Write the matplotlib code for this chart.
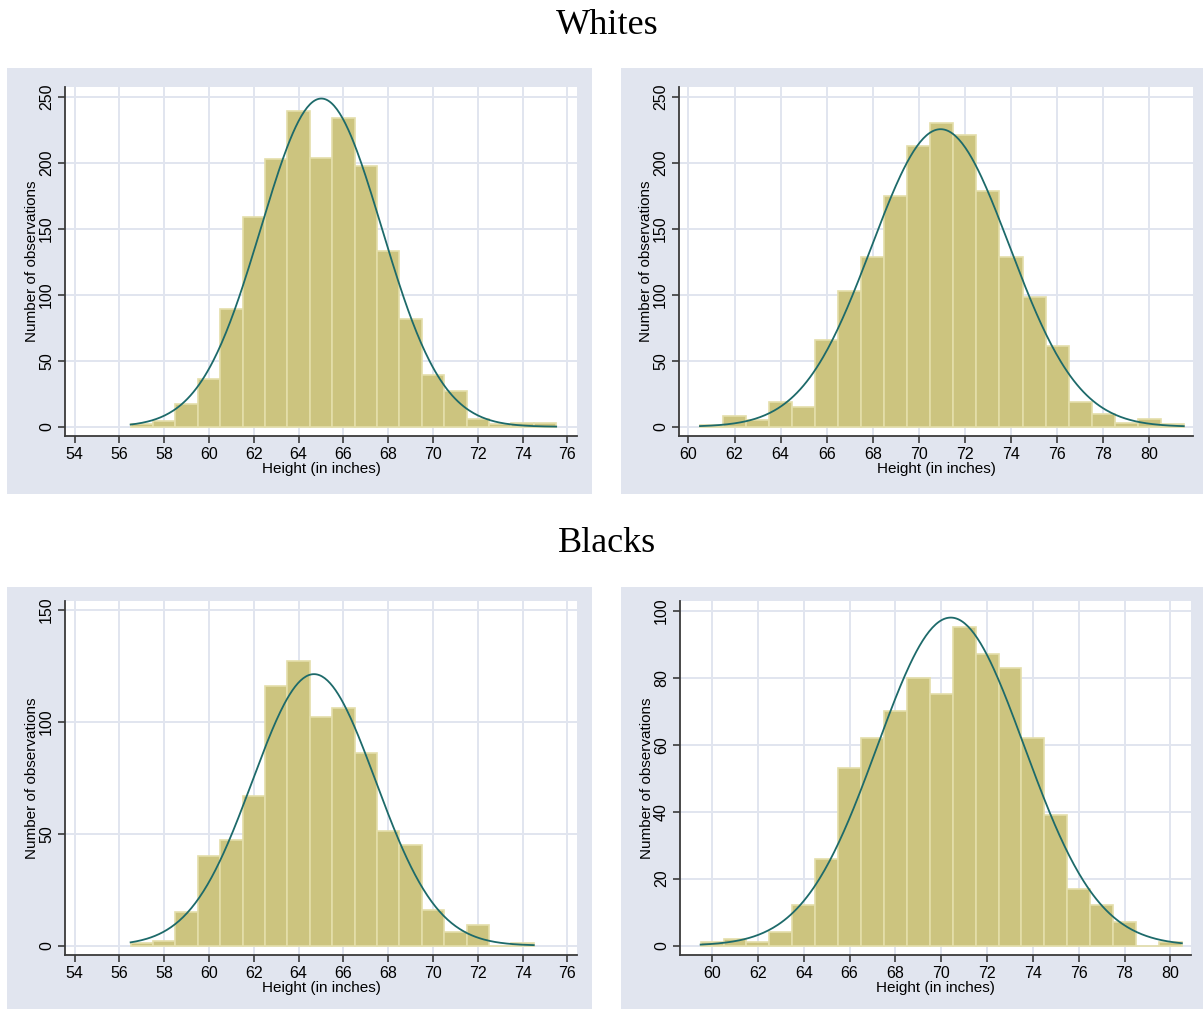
import matplotlib
matplotlib.use('Agg')
import matplotlib.pyplot as plt
from matplotlib.patches import Rectangle
import numpy as np

# bin centres (width 1 inch) and counts
w_women_bins = list(range(57, 76))
w_women_counts = [2, 4, 17, 36, 89, 159, 203, 239, 204, 234, 198, 133, 82, 39, 27, 6, 2, 3, 3]

w_men_bins = list(range(61, 82))
w_men_counts = [1, 8, 5, 19, 15, 66, 103, 129, 175, 213, 230, 221, 179, 129, 98, 61, 19, 10, 3, 6, 2]

b_women_bins = list(range(57, 75))
b_women_counts = [1, 2, 15, 40, 47, 67, 116, 127, 102, 106, 86, 51, 45, 16, 6, 9, 0, 1]

b_men_bins = list(range(60, 81))
b_men_counts = [1, 2, 1, 4, 12, 26, 53, 62, 70, 80, 75, 95, 87, 83, 62, 39, 17, 12, 7, 0, 1]

W, H = 1203, 1009
BG = '#E1E5EF'
BAR = '#CCC47F'
BAR_EDGE = '#E4DEAA'
CURVE = '#1D6A6A'
GRID = '#E1E5EF'

plt.rcParams['font.family'] = ['Liberation Sans', 'DejaVu Sans']

fig = plt.figure(figsize=(W / 100, H / 100), dpi=100)
fig.patch.set_facecolor('white')


def px_box(l, t, r, b):
    return [l / W, 1 - b / H, (r - l) / W, (b - t) / H]


def gray_box(l, t, r, b):
    fig.patches.append(Rectangle((l / W, 1 - b / H), (r - l) / W, (b - t) / H,
                                 transform=fig.transFigure, facecolor=BG,
                                 edgecolor='none', zorder=-10))


def panel(rect, bins, counts, xticks, yticks, xlim, ylim):
    ax = fig.add_axes(rect)
    bins = np.array(bins, dtype=float)
    counts = np.array(counts, dtype=float)
    ax.bar(bins, counts, width=1.0, color=BAR, edgecolor=BAR_EDGE, linewidth=1.2, zorder=2)
    # normal density scaled to counts
    n = counts.sum()
    mu = (counts * bins).sum() / n
    sd = np.sqrt((counts * (bins - mu) ** 2).sum() / (n - 1))
    xs = np.linspace(bins[0] - 0.5, bins[-1] + 0.5, 300)
    ys = n / (sd * np.sqrt(2 * np.pi)) * np.exp(-0.5 * ((xs - mu) / sd) ** 2)
    ax.plot(xs, ys, color=CURVE, lw=1.3, zorder=3)
    ax.set_xlim(*xlim)
    ax.set_ylim(*ylim)
    ax.set_xticks(xticks)
    ax.set_yticks(yticks)
    ax.set_yticklabels([str(v) for v in yticks], rotation=90, va='center')
    ax.grid(True, color=GRID, lw=1.4, zorder=0)
    ax.set_axisbelow(True)
    for s in ['top', 'right']:
        ax.spines[s].set_visible(False)
    for s in ['left', 'bottom']:
        ax.spines[s].set_color('#3a3a3a')
        ax.spines[s].set_linewidth(1.3)
    ax.tick_params(direction='out', length=5, width=1.2, color='#3a3a3a',
                   labelsize=11.5, pad=3)
    ax.set_xlabel('Height (in inches)', fontsize=11, labelpad=0)
    ax.set_ylabel('Number of observations', fontsize=11, labelpad=0)
    return ax


# panel backgrounds
gray_box(7, 68, 592, 494)
gray_box(621, 68, 1203, 494)
gray_box(7, 587, 592, 1009)
gray_box(621, 587, 1203, 1009)

panel(px_box(65, 87, 577, 436), w_women_bins, w_women_counts,
      range(54, 77, 2), range(0, 251, 50), (53.57, 76.43), (-7, 257.5))
panel(px_box(679, 87, 1193, 436), w_men_bins, w_men_counts,
      range(60, 81, 2), range(0, 251, 50), (59.59, 81.9), (-7, 257.5))
panel(px_box(65, 601, 577, 955), b_women_bins, b_women_counts,
      range(54, 77, 2), range(0, 151, 50), (53.57, 76.43), (-4.2, 154))
panel(px_box(680, 601, 1191, 955), b_men_bins, b_men_counts,
      range(60, 81, 2), range(0, 101, 20), (58.6, 80.9), (-2.8, 102.9))

fig.text(607 / W, 1 - 25 / H, 'Whites', ha='center', va='center',
         fontsize=26, family=['Liberation Serif', 'DejaVu Serif'])
fig.text(607 / W, 1 - 543 / H, 'Blacks', ha='center', va='center',
         fontsize=26, family=['Liberation Serif', 'DejaVu Serif'])

fig.savefig('out.png', dpi=100, facecolor='white')
